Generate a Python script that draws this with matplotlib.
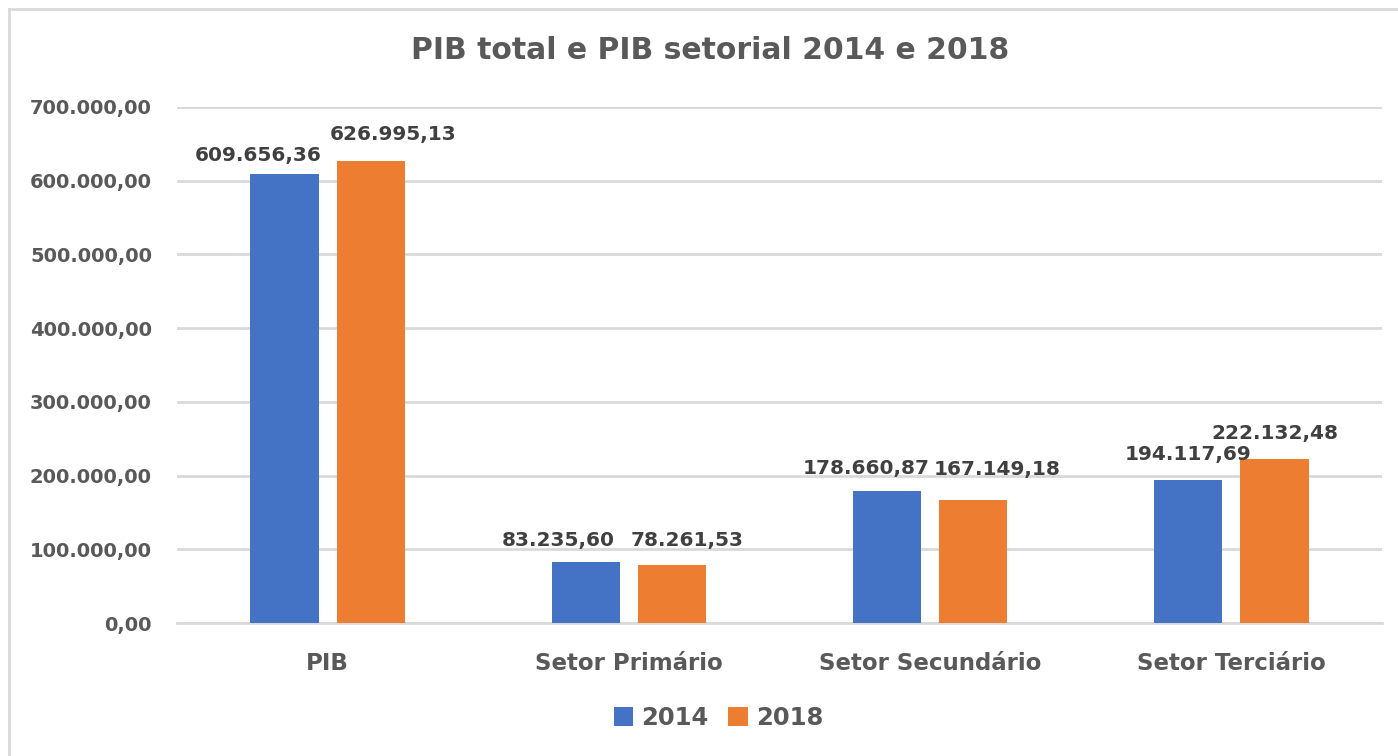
import matplotlib.pyplot as plt
import numpy as np
from matplotlib.lines import Line2D
from matplotlib.ticker import FuncFormatter

# --- Dados ---
categorias = ["PIB", "Setor Primário", "Setor Secundário", "Setor Terciário"]
anos = ["2014", "2018"]
valores_2014 = [609656.36, 83235.60, 178660.87, 194117.69]
valores_2018 = [626995.13, 78261.53, 167149.18, 222132.48]

# deslocamento dos rótulos (pixels), como ficaram posicionados no Excel
desloc_2014 = [(-26, 18), (-28, 21), (-21, 23), (0, 25)]
desloc_2018 = [(22, 26), (15, 25), (24, 30), (0, 26)]

AZUL = "#4472C4"
LARANJA = "#ED7D31"
CINZA = "#595959"
CINZA_ESC = "#404040"
GRADE = "#D9D9D9"


def fmt_br(v, pos=None):
    s = f"{v:,.2f}"
    return s.replace(",", "X").replace(".", ",").replace("X", ".")


fig = plt.figure(figsize=(13.98, 7.56), dpi=100)
ax = fig.add_axes([0.1266, 0.1759, 0.862, 0.6826])

x = np.arange(len(categorias))
larg = 0.226
off = 0.143
b1 = ax.bar(x - off, valores_2014, larg, color=AZUL, label=anos[0], zorder=3)
b2 = ax.bar(x + off, valores_2018, larg, color=LARANJA, label=anos[1], zorder=3)

for barras, vals, desl in [(b1, valores_2014, desloc_2014), (b2, valores_2018, desloc_2018)]:
    for b, v, (dx, dy) in zip(barras, vals, desl):
        ax.annotate(fmt_br(v), (b.get_x() + b.get_width() / 2, v),
                    xytext=(dx, dy), textcoords="offset pixels",
                    ha="center", va="center", fontsize=14.5, fontweight="bold",
                    color=CINZA_ESC, zorder=4)

ax.set_xlim(-0.5, 3.5)
ax.set_ylim(0, 700000)
ax.set_yticks(np.arange(0, 700001, 100000))
ax.yaxis.set_major_formatter(FuncFormatter(fmt_br))
ax.set_xticks(x)
ax.set_xticklabels(categorias, fontsize=16.5, fontweight="bold", color=CINZA)
ax.tick_params(axis="y", labelsize=14, labelcolor=CINZA, length=0, pad=18)
ax.tick_params(axis="x", length=0, pad=21)
for lbl in ax.get_yticklabels():
    lbl.set_fontweight("bold")
ax.grid(axis="y", color=GRADE, linewidth=2, zorder=0)
for s in ["top", "right", "left"]:
    ax.spines[s].set_visible(False)
ax.spines["bottom"].set_color(GRADE)
ax.spines["bottom"].set_linewidth(2)

fig.text(0.508, 0.933, "PIB total e PIB setorial 2014 e 2018", ha="center", va="center",
         fontsize=21.5, fontweight="bold", color=CINZA)

leg = fig.legend(handles=[b1, b2], labels=anos, loc="center", bbox_to_anchor=(0.514, 0.05),
                 ncol=2, frameon=False, fontsize=17.5, handlelength=0.8, handleheight=0.8,
                 handletextpad=0.35, columnspacing=0.8)
for t in leg.get_texts():
    t.set_fontweight("bold")
    t.set_color(CINZA)

# borda da área do gráfico (parcialmente cortada na imagem)
fig.add_artist(Line2D([9 / 1398, 9 / 1398], [0, 1 - 9 / 756], transform=fig.transFigure, color=GRADE, lw=2))
fig.add_artist(Line2D([9 / 1398, 1], [1 - 9 / 756, 1 - 9 / 756], transform=fig.transFigure, color=GRADE, lw=2))

fig.savefig("out.png", dpi=100)
